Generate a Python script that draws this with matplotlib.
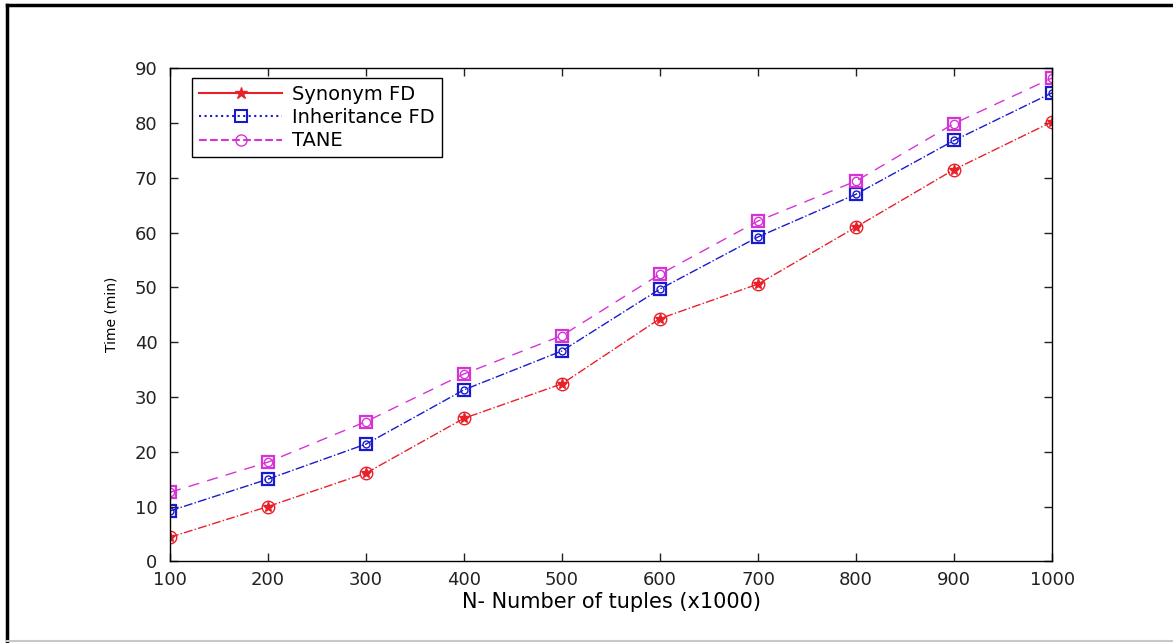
import matplotlib

matplotlib.use("Agg")
import matplotlib.pyplot as plt
from matplotlib.lines import Line2D

plt.rcParams.update(
    {
        "font.family": ["DejaVu Sans"],
        "font.size": 13,
        "axes.linewidth": 1.0,
        "xtick.direction": "in",
        "ytick.direction": "in",
    }
)

tuples = [100, 200, 300, 400, 500, 600, 700, 800, 900, 1000]
synonym_fd = [4.4, 10.0, 16.1, 26.1, 32.4, 44.3, 50.6, 61.0, 71.5, 80.2]
inheritance_fd = [9.2, 15.0, 21.4, 31.3, 38.4, 49.7, 59.2, 67.0, 76.8, 85.5]
tane = [12.6, 18.1, 25.5, 34.2, 41.2, 52.4, 62.1, 69.4, 79.9, 88.2]

x_ticks = [100, 200, 300, 400, 500, 600, 700, 800, 900, 1000]
y_ticks = [0, 10, 20, 30, 40, 50, 60, 70, 80, 90]

RED = "#e8202a"
BLUE = "#1a1acc"
MAGENTA = "#d633d6"

fig = plt.figure(figsize=(11.73, 6.43), dpi=100)
ax = fig.add_axes([0.1449, 0.127, 0.752, 0.767])

# series lines
ax.plot(tuples, synonym_fd, color=RED, linestyle="-.", linewidth=1.0)
ax.plot(tuples, inheritance_fd, color=BLUE, linestyle="-.", linewidth=1.0)
ax.plot(tuples, tane, color=MAGENTA, linestyle="--", linewidth=1.0, dashes=(8, 6))

# overlaid markers
ax.plot(tuples, synonym_fd, linestyle="none", marker="o", markersize=9,
        markerfacecolor="none", markeredgecolor=RED, markeredgewidth=1.0)
ax.plot(tuples, synonym_fd, linestyle="none", marker="*", markersize=8,
        color=RED)
ax.plot(tuples, inheritance_fd, linestyle="none", marker="s", markersize=9,
        markerfacecolor="none", markeredgecolor=BLUE, markeredgewidth=1.6)
ax.plot(tuples, inheritance_fd, linestyle="none", marker="o", markersize=5,
        markerfacecolor="none", markeredgecolor=BLUE, markeredgewidth=1.0)
ax.plot(tuples, tane, linestyle="none", marker="s", markersize=9,
        markerfacecolor="none", markeredgecolor=MAGENTA, markeredgewidth=1.6)
ax.plot(tuples, tane, linestyle="none", marker="o", markersize=6,
        markerfacecolor="none", markeredgecolor=MAGENTA, markeredgewidth=1.0)

ax.set_xlim(100, 1000)
ax.set_ylim(0, 90)
ax.set_xticks(x_ticks)
ax.set_yticks(y_ticks)
ax.tick_params(top=True, right=True, length=6, width=1.0, labelsize=13,
               colors="#222222")
ax.tick_params(axis="x", pad=7)
ax.tick_params(axis="y", pad=9)
ax.set_xlabel("N- Number of tuples (x1000)", fontsize=15)
ax.set_ylabel("Time (min)", fontsize=10)
ax.xaxis.set_label_coords(0.5, -0.063)
ax.yaxis.set_label_coords(-0.058, 0.5)

handles = [
    Line2D([], [], color=RED, linestyle="-", marker="*", markersize=9),
    Line2D([], [], color=BLUE, linestyle=":", marker="s", markersize=8,
           markerfacecolor="none", markeredgewidth=1.5),
    Line2D([], [], color=MAGENTA, linestyle="--", marker="o", markersize=8,
           markerfacecolor="none"),
]
leg = ax.legend(
    handles,
    ["Synonym FD", "Inheritance FD", "TANE"],
    loc="upper left",
    bbox_to_anchor=(0.025, 0.98),
    fancybox=False,
    edgecolor="black",
    framealpha=1.0,
    fontsize=14,
    handlelength=4.3,
    borderpad=0.35,
    labelspacing=0.22,
    handletextpad=0.5,
    borderaxespad=0.0,
)
leg.get_frame().set_linewidth(1.0)

# outer figure frame: black left/top, light grey bottom
fig.add_artist(Line2D([0.006, 0.006], [0.0, 0.992], color="black",
                      linewidth=2.5, transform=fig.transFigure))
fig.add_artist(Line2D([0.006, 1.0], [0.992, 0.992], color="black",
                      linewidth=2.5, transform=fig.transFigure))
fig.add_artist(Line2D([0.006, 1.0], [0.003, 0.003], color="#c8c8c8",
                      linewidth=1.5, transform=fig.transFigure))

fig.savefig("out.png", dpi=100, facecolor="white")
